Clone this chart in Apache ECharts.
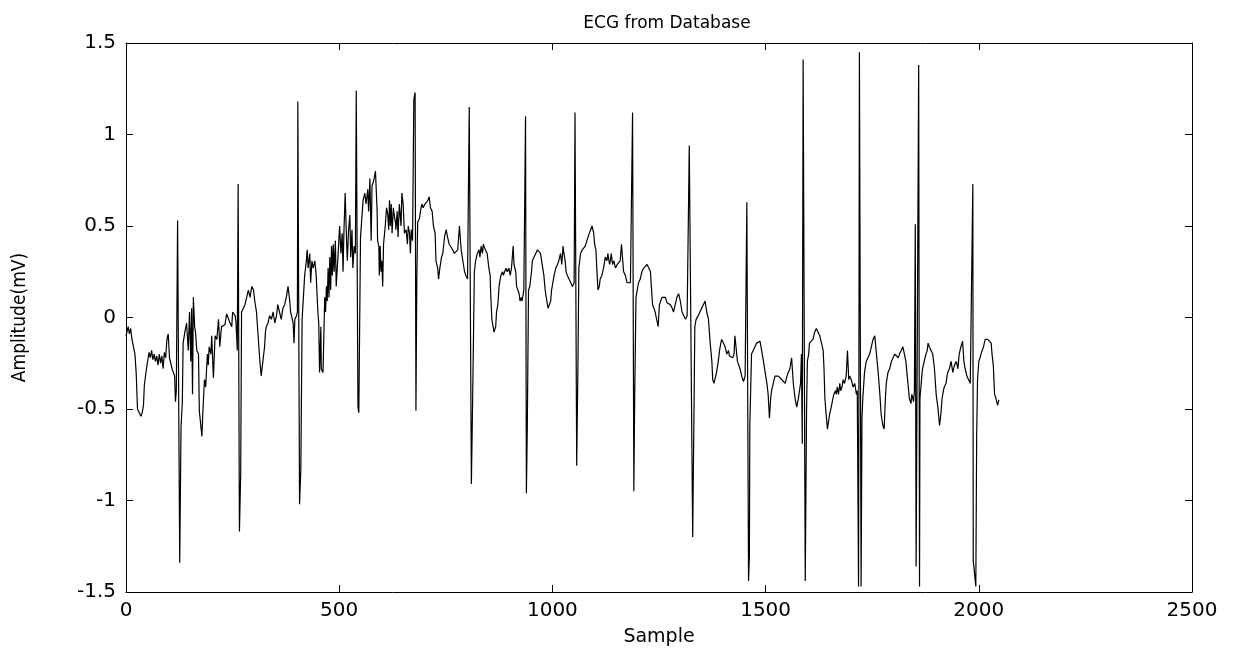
<!DOCTYPE html>
<html>
<head>
<meta charset="utf-8">
<title>ECG from Database</title>
<script src="https://cdn.jsdelivr.net/npm/echarts@6/dist/echarts.min.js"></script>
<style>
  html, body { margin: 0; padding: 0; background: #fff; }
  #chart { width: 1242px; height: 654px; }
</style>
</head>
<body>
<div id="chart"></div>
<script>
// samples (sample index, amplitude in mV)
const samples = [
  0, 3, 5, 8, 11, 14, 18, 21, 24, 27, 31, 35, 38, 41, 43, 46, 48, 51, 54, 57,
  60, 63, 66, 69, 72, 75, 78, 81, 84, 87, 90, 93, 96, 99, 102, 105, 108, 111, 114, 116,
  118, 121, 126, 129, 132, 134, 138, 142, 146, 149, 152, 154, 156, 158, 161, 163, 166, 170, 172, 175,
  178, 180, 181, 184, 187, 189, 191, 193, 195, 199, 201, 205, 209, 213, 217, 220, 224, 228, 232, 236,
  240, 244, 248, 250, 256, 258, 261, 263, 266, 269, 271, 275, 279, 283, 287, 291, 295, 299, 302, 306,
  310, 314, 317, 321, 325, 327, 329, 333, 337, 341, 345, 349, 353, 356, 360, 364, 368, 372, 376, 380,
  384, 386, 388, 392, 394, 396, 400, 402, 403, 407, 410, 413, 416, 419, 423, 425, 427, 431, 433, 436,
  439, 443, 446, 450, 452, 454, 457, 458, 462, 464, 466, 468, 470, 472, 474, 476, 478, 480, 482, 484,
  486, 488, 491, 493, 497, 501, 504, 507, 509, 511, 514, 517, 519, 522, 525, 527, 530, 532, 535, 538,
  540, 544, 546, 550, 556, 560, 563, 567, 569, 572, 575, 577, 580, 582, 585, 586, 589, 590, 593, 594,
  596, 598, 600, 602, 604, 606, 608, 611, 614, 616, 618, 620, 622, 624, 627, 629, 632, 633, 636, 638,
  641, 645, 647, 650, 653, 657, 660, 662, 665, 667, 669, 672, 675, 678, 680, 682, 684, 688, 692, 694,
  697, 701, 704, 708, 711, 714, 718, 721, 725, 727, 731, 733, 736, 740, 743, 747, 751, 754, 758, 762,
  766, 770, 774, 778, 782, 786, 790, 794, 797, 801, 805, 810, 813, 817, 820, 824, 828, 830, 833, 836,
  838, 841, 844, 847, 851, 854, 855, 858, 861, 863, 867, 869, 872, 875, 879, 883, 885, 888, 891, 894,
  898, 901, 904, 908, 910, 914, 916, 919, 922, 924, 927, 929, 933, 937, 939, 941, 944, 947, 951, 953,
  957, 961, 965, 969, 972, 976, 980, 983, 987, 990, 993, 996, 998, 1001, 1004, 1008, 1012, 1015, 1019, 1022,
  1025, 1027, 1030, 1032, 1035, 1039, 1043, 1047, 1051, 1053, 1057, 1060, 1062, 1066, 1070, 1074, 1077, 1081, 1085, 1089,
  1093, 1097, 1099, 1102, 1105, 1107, 1110, 1112, 1116, 1120, 1124, 1128, 1130, 1134, 1136, 1138, 1141, 1144, 1148, 1152,
  1155, 1159, 1162, 1165, 1167, 1171, 1175, 1179, 1183, 1188, 1191, 1193, 1196, 1199, 1202, 1206, 1210, 1214, 1218, 1222,
  1226, 1230, 1232, 1235, 1238, 1241, 1245, 1248, 1251, 1254, 1257, 1261, 1265, 1269, 1273, 1277, 1281, 1284, 1288, 1292,
  1296, 1300, 1304, 1308, 1312, 1316, 1321, 1329, 1332, 1334, 1337, 1340, 1342, 1346, 1350, 1354, 1358, 1362, 1366, 1370,
  1374, 1376, 1379, 1381, 1385, 1389, 1392, 1395, 1397, 1401, 1405, 1409, 1413, 1415, 1418, 1423, 1426, 1428, 1432, 1434,
  1436, 1440, 1444, 1448, 1452, 1456, 1460, 1462, 1463, 1467, 1471, 1475, 1479, 1483, 1487, 1491, 1495, 1499, 1503, 1506,
  1509, 1512, 1514, 1518, 1522, 1526, 1530, 1534, 1538, 1542, 1546, 1549, 1553, 1557, 1561, 1565, 1569, 1573, 1577, 1580,
  1582, 1584, 1586, 1588, 1592, 1593, 1596, 1598, 1601, 1603, 1607, 1611, 1615, 1619, 1623, 1627, 1631, 1635, 1637, 1639,
  1642, 1645, 1648, 1650, 1654, 1658, 1660, 1664, 1666, 1668, 1671, 1674, 1676, 1679, 1682, 1685, 1689, 1692, 1695, 1697,
  1701, 1705, 1709, 1713, 1715, 1717, 1718, 1720, 1724, 1726, 1728, 1732, 1736, 1740, 1744, 1748, 1752, 1756, 1760, 1764,
  1768, 1771, 1775, 1778, 1781, 1783, 1787, 1791, 1795, 1799, 1803, 1807, 1811, 1814, 1818, 1822, 1826, 1829, 1833, 1837,
  1841, 1843, 1847, 1849, 1851, 1853, 1859, 1861, 1862, 1865, 1867, 1868, 1872, 1876, 1879, 1881, 1884, 1888, 1892, 1896,
  1900, 1904, 1908, 1911, 1914, 1917, 1919, 1923, 1927, 1931, 1935, 1939, 1943, 1947, 1951, 1954, 1958, 1962, 1965, 1968,
  1972, 1976, 1980, 1986, 1987, 1990, 1993, 1995, 1997, 2000, 2003, 2005, 2008, 2011, 2013, 2015, 2017, 2021, 2025, 2029,
  2031, 2034, 2037, 2040, 2044, 2047
]
const amplitude = [
  -0.10, -0.07, -0.05, -0.09, -0.06, -0.12, -0.13, -0.20, -0.31, -0.50, -0.50, -0.54, -0.52, -0.48, -0.37, -0.36, -0.28, -0.27, -0.19, -0.22,
  -0.18, -0.23, -0.20, -0.24, -0.21, -0.26, -0.20, -0.25, -0.21, -0.28, -0.19, -0.22, -0.12, -0.09, -0.22, -0.25, -0.28, -0.30, -0.32, -0.46,
  -0.40, 0.53, -1.34, -0.60, -0.47, -0.14, -0.08, -0.03, -0.18, 0.03, -0.24, 0.05, -0.42, 0.11, -0.05, -0.08, -0.18, -0.20, -0.51, -0.51,
  -0.65, -0.53, -0.48, -0.34, -0.38, -0.28, -0.20, -0.26, -0.16, -0.20, -0.10, -0.33, -0.10, -0.12, -0.01, -0.16, -0.05, -0.06, -0.04, 0.02,
  0.03, -0.03, -0.05, 0.03, 0.01, -0.03, -0.18, 0.73, -1.17, -0.85, 0.03, 0.03, 0.07, 0.11, 0.15, 0.11, 0.17, 0.15, 0.09, 0.03,
  0.02, -0.24, -0.32, -0.24, -0.16, -0.08, -0.05, -0.03, 0.01, -0.01, 0.03, -0.03, 0.01, 0.07, 0.03, -0.01, 0.05, 0.07, 0.11, 0.17,
  0.09, 0.03, 0.01, -0.03, -0.14, -0.01, 0.01, 0.03, 1.18, -1.02, -0.83, -0.01, 0.11, 0.23, 0.31, 0.37, 0.27, 0.35, 0.19, 0.31,
  0.27, 0.31, 0.23, 0.03, -0.03, -0.30, -0.05, -0.28, -0.30, -0.10, 0.11, 0.03, 0.17, 0.09, 0.27, 0.11, 0.33, 0.15, 0.39, 0.23,
  0.40, 0.25, 0.42, 0.17, 0.33, 0.50, 0.35, 0.46, 0.25, 0.46, 0.68, 0.44, 0.31, 0.48, 0.56, 0.33, 0.48, 0.27, 0.39, 0.35,
  1.24, -0.49, -0.52, 0.44, 0.64, 0.68, 0.62, 0.70, 0.58, 0.76, 0.42, 0.72, 0.74, 0.76, 0.80, 0.81, 0.58, 0.42, 0.39, 0.23,
  0.39, 0.25, 0.31, 0.17, 0.40, 0.39, 0.50, 0.60, 0.56, 0.48, 0.64, 0.50, 0.62, 0.46, 0.60, 0.56, 0.52, 0.48, 0.58, 0.44,
  0.62, 0.50, 0.68, 0.62, 0.46, 0.48, 0.40, 0.50, 0.46, 0.35, 0.48, 0.42, 1.19, 1.23, -0.51, 0.20, 0.52, 0.54, 0.60, 0.62,
  0.60, 0.62, 0.62, 0.64, 0.66, 0.60, 0.58, 0.50, 0.46, 0.31, 0.27, 0.21, 0.27, 0.33, 0.35, 0.44, 0.48, 0.44, 0.40, 0.39,
  0.37, 0.35, 0.35, 0.37, 0.50, 0.37, 0.31, 0.25, 0.23, 0.21, 1.15, -0.91, -0.44, 0.25, 0.31, 0.35, 0.37, 0.33, 0.39, 0.35,
  0.40, 0.38, 0.37, 0.35, 0.27, 0.23, 0.15, -0.01, -0.05, -0.08, -0.05, 0.03, 0.07, 0.17, 0.23, 0.25, 0.23, 0.25, 0.27, 0.25,
  0.27, 0.23, 0.27, 0.39, 0.29, 0.25, 0.17, 0.15, 0.13, 0.09, 0.11, 0.09, 0.15, 1.10, -0.96, -0.63, 0.15, 0.17, 0.25, 0.31,
  0.33, 0.35, 0.37, 0.37, 0.35, 0.29, 0.23, 0.15, 0.09, 0.05, 0.05, 0.09, 0.15, 0.19, 0.23, 0.27, 0.29, 0.31, 0.35, 0.29,
  0.39, 0.35, 0.31, 0.25, 0.23, 0.21, 0.19, 0.17, 0.19, 1.12, -0.81, -0.24, 0.27, 0.35, 0.37, 0.37, 0.39, 0.42, 0.45, 0.44,
  0.50, 0.46, 0.40, 0.37, 0.23, 0.15, 0.17, 0.21, 0.23, 0.27, 0.33, 0.31, 0.35, 0.29, 0.31, 0.35, 0.29, 0.31, 0.27, 0.29,
  0.29, 0.31, 0.40, 0.39, 0.25, 0.23, 0.19, 0.19, 0.19, 1.12, -0.95, -0.44, 0.11, 0.15, 0.19, 0.21, 0.25, 0.27, 0.27, 0.29,
  0.27, 0.25, 0.17, 0.07, 0.05, 0.03, 0.03, -0.05, 0.07, 0.09, 0.11, 0.10, 0.11, 0.08, 0.07, 0.07, 0.05, 0.03, 0.07, 0.11,
  0.13, 0.09, 0.03, 0.01, -0.01, 0.01, 0.94, -1.20, -0.53, -0.05, -0.01, -0.01, 0.01, 0.03, 0.05, 0.07, 0.09, 0.03, -0.01, -0.14,
  -0.24, -0.34, -0.36, -0.34, -0.30, -0.24, -0.18, -0.14, -0.12, -0.14, -0.16, -0.20, -0.18, -0.21, -0.20, -0.22, -0.20, -0.10, -0.10, -0.24,
  -0.24, -0.28, -0.32, -0.35, -0.32, 0.63, -1.44, -1.30, -0.59, -0.20, -0.18, -0.16, -0.14, -0.14, -0.13, -0.14, -0.24, -0.30, -0.36, -0.42,
  -0.55, -0.44, -0.40, -0.36, -0.32, -0.31, -0.32, -0.33, -0.34, -0.33, -0.36, -0.33, -0.30, -0.28, -0.22, -0.36, -0.44, -0.49, -0.44, -0.44,
  -0.36, -0.20, -0.69, 1.41, 1.40, -1.44, -0.51, -0.24, -0.20, -0.14, -0.14, -0.12, -0.08, -0.06, -0.08, -0.10, -0.14, -0.18, -0.28, -0.44,
  -0.53, -0.61, -0.61, -0.53, -0.49, -0.44, -0.42, -0.40, -0.42, -0.38, -0.42, -0.36, -0.40, -0.38, -0.34, -0.36, -0.32, -0.18, -0.34, -0.32,
  -0.34, -0.38, -0.36, -0.42, -0.40, -0.40, -1.47, 1.45, -1.47, -0.55, -0.44, -0.30, -0.24, -0.22, -0.20, -0.16, -0.12, -0.10, -0.20, -0.30,
  -0.42, -0.53, -0.59, -0.61, -0.44, -0.36, -0.30, -0.28, -0.24, -0.22, -0.20, -0.21, -0.22, -0.20, -0.18, -0.16, -0.16, -0.24, -0.34, -0.44,
  -0.47, -0.42, -0.46, -0.40, 0.51, -1.36, 1.38, -1.47, -0.44, -0.36, -0.30, -0.28, -0.24, -0.20, -0.18, -0.14, -0.16, -0.18, -0.20, -0.28,
  -0.42, -0.49, -0.59, -0.53, -0.44, -0.40, -0.38, -0.36, -0.30, -0.28, -0.24, -0.30, -0.26, -0.24, -0.28, -0.20, -0.16, -0.13, -0.24, -0.28,
  -0.32, -0.34, -0.36, 0.73, -1.33, -1.40, -1.47, -0.65, -0.34, -0.24, -0.22, -0.20, -0.18, -0.16, -0.14, -0.12, -0.11, -0.12, -0.13, -0.14,
  -0.20, -0.26, -0.42, -0.44, -0.48, -0.45
]
const xTicks = [0, 500, 1000, 1500, 2000, 2500]
const yTicks = [-1.5, -1, -0.5, 0, 0.5, 1, 1.5]

const font = '"DejaVu Sans", "Liberation Sans", Arial, sans-serif'
const ink = '#000'

const points = samples.map((s, i) => [s, amplitude[i]])

const xBase = {
  type: 'value',
  min: xTicks[0],
  max: xTicks[xTicks.length - 1],
  interval: xTicks[1] - xTicks[0],
  splitLine: { show: false },
  axisLine: { show: true, onZero: false, lineStyle: { color: ink, width: 1 } },
  axisTick: { show: true, inside: true, length: 7, lineStyle: { color: ink } }
}
const yBase = {
  type: 'value',
  min: yTicks[0],
  max: yTicks[yTicks.length - 1],
  interval: 0.5,
  splitLine: { show: false },
  axisLine: { show: true, onZero: false, lineStyle: { color: ink, width: 1 } },
  axisTick: { show: true, inside: true, length: 7, lineStyle: { color: ink } }
}

const chart = echarts.init(document.getElementById('chart'))
chart.setOption({
  animation: false,
  backgroundColor: '#fff',
  title: {
    text: 'ECG from Database',
    left: 662,
    top: 10,
    textAlign: 'center',
    textStyle: { fontFamily: font, fontSize: 17, fontWeight: 'normal', color: ink }
  },
  grid: { left: 126, top: 43, right: 50, bottom: 62 },
  xAxis: [
    Object.assign({}, xBase, {
      position: 'bottom',
      name: 'Sample',
      nameLocation: 'middle',
      nameGap: 36,
      nameTextStyle: { fontFamily: font, fontSize: 19, color: ink },
      axisLabel: { fontFamily: font, fontSize: 20, color: ink, margin: 9, formatter: v => String(v) }
    }),
    Object.assign({}, xBase, { position: 'top', axisLabel: { show: false } })
  ],
  yAxis: [
    Object.assign({}, yBase, {
      position: 'left',
      name: 'Amplitude(mV)',
      nameLocation: 'middle',
      nameGap: 96,
      nameTextStyle: {
        fontFamily: '"Liberation Sans Narrow", "DejaVu Sans Condensed", "Liberation Sans", sans-serif',
        fontSize: 19,
        color: ink
      },
      axisLabel: { fontFamily: font, fontSize: 20, color: ink, margin: 10, formatter: v => String(v) }
    }),
    Object.assign({}, yBase, { position: 'right', axisLabel: { show: false } })
  ],
  series: [
    {
      type: 'line',
      data: points,
      xAxisIndex: 0,
      yAxisIndex: 0,
      showSymbol: false,
      symbol: 'none',
      lineStyle: { color: ink, width: 1.2 }
    }
  ]
})
window.addEventListener('resize', () => {
  chart.resize()
})
</script>
</body>
</html>
